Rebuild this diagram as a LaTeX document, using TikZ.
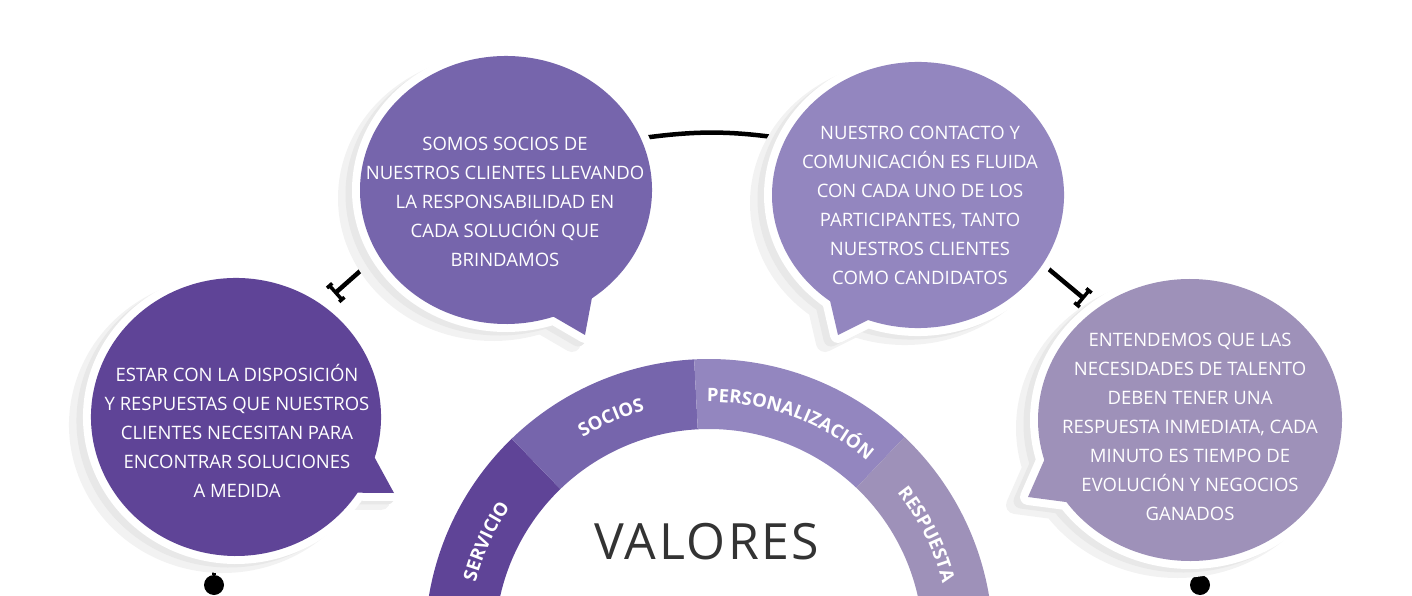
\documentclass[tikz,border=0pt]{standalone}
\usepackage{fontspec}
\setmainfont{Open Sans}
\newfontfamily\valfont{Open Sans}[LetterSpace=5]
\usetikzlibrary{arrows.meta,shapes.geometric,decorations.text,calc}
\definecolor{cserv}{HTML}{5F4497}
\definecolor{csoc}{HTML}{7665AC}
\definecolor{cpers}{HTML}{9386BF}
\definecolor{cresp}{HTML}{9E91B9}
\definecolor{valgray}{HTML}{333333}
\newcommand\lblfont{\fontsize{18.5}{18.5}\selectfont\bfseries}
% colour, centre, x radius, y radius, tail from, tail to, tip
\newcommand\bubble[7]{%
  \begin{scope}[shift={(-13,-8)}]
    \filldraw[black!5,line width=18pt] (#2) ++(#5:#3 and #4) arc[start angle=#5,end angle=#6,x radius=#3,y radius=#4] -- (#7) -- cycle;
  \end{scope}
  \begin{scope}[shift={(-7,-4)}]
    \filldraw[black!9,line width=15pt] (#2) ++(#5:#3 and #4) arc[start angle=#5,end angle=#6,x radius=#3,y radius=#4] -- (#7) -- cycle;
  \end{scope}
  \path[preaction={draw=white,line width=16pt},fill=#1] (#2) ++(#5:#3 and #4) arc[start angle=#5,end angle=#6,x radius=#3,y radius=#4] -- (#7) -- cycle;
}
\begin{document}
\begin{tikzpicture}[x=1pt,y=1pt,line join=round,
  bubshape/.style={ellipse,inner sep=0pt},
  bubtext/.style={align=center,text=white,font=\fontsize{18.5}{29}\selectfont},
  link/.style={line width=4.5pt},
  tee/.style={link,-{Tee Barb[width=22pt,length=7pt,line width=3.5pt]}},
  dot/.style={circle,fill=black,inner sep=0pt,minimum size=20pt}]
\useasboundingbox (0,0) rectangle (1412,595);
\node[bubshape,minimum width=290pt,minimum height=278pt] (serv) at (236,178) {};
\node[bubshape,minimum width=292pt,minimum height=268pt] (soc) at (506,405) {};
\node[bubshape,minimum width=292pt,minimum height=266pt] (pers) at (918,400) {};
\node[bubshape,minimum width=304pt,minimum height=282pt] (resp) at (1190,175) {};
\coordinate (t12) at ($(serv.center)+(51.5:156)$);
\coordinate (t34) at ($(resp.center)+(131:159)$);
\node[dot] (d1) at (214,10) {};
\node[dot] (d4) at (1200,10) {};
% connectors first, the bubbles hide their ends
\draw[tee] (soc.207) -- (t12);
\draw[tee] (pers.-29) -- (t34);
\draw[link] (soc.21) to[bend left=8] (pers.157);
\draw[link] (serv.south -| d1) -- (d1);
\draw[link] (resp.south -| d4) -- (d4);
\bubble{cserv}{236,178}{145}{139}{-17}{327}{394,102}
\bubble{csoc}{506,405}{146}{134}{-54}{289}{585,260}
\bubble{cpers}{918,400}{146}{133}{250}{593}{838,260}
\bubble{cresp}{1190,175}{152}{141}{215.6}{556.5}{1028,98}
\node[bubtext] (servtxt) at (237,164) {ESTAR CON LA DISPOSICIÓN\\Y RESPUESTAS QUE NUESTROS\\CLIENTES NECESITAN PARA\\ENCONTRAR SOLUCIONES\\A MEDIDA};
\node[bubtext] (soctxt) at (505,393) {SOMOS SOCIOS DE\\NUESTROS CLIENTES LLEVANDO\\LA RESPONSABILIDAD EN\\CADA SOLUCIÓN QUE\\BRINDAMOS};
\node[bubtext] (perstxt) at (920,389.5) {NUESTRO CONTACTO Y\\COMUNICACIÓN ES FLUIDA\\CON CADA UNO DE LOS\\PARTICIPANTES, TANTO\\NUESTROS CLIENTES\\COMO CANDIDATOS};
\node[bubtext] (resptxt) at (1190,168) {ENTENDEMOS QUE LAS\\NECESIDADES DE TALENTO\\DEBEN TENER UNA\\RESPUESTA INMEDIATA, CADA\\MINUTO ES TIEMPO DE\\EVOLUCIÓN Y NEGOCIOS\\GANADOS};
% half ring of the values
\coordinate (ring) at (709,-48);
\begin{scope}
\clip (0,0) rectangle (1412,595);
\foreach \a/\b/\c in {180/134/cserv,134/93/csoc,93/46.5/cpers,46.5/0/cresp}
  \fill[\c] ([shift={(\a:284)}]ring) arc[start angle=\a,end angle=\b,radius=284] -- ([shift={(\b:214)}]ring) arc[start angle=\b,end angle=\a,radius=214] -- cycle;
\path[decorate,decoration={text along path,text align=center,text color=white,text={|\lblfont|SERVICIO}}] ([shift={(177:241)}]ring) arc[start angle=177,end angle=134,radius=241];
\path[decorate,decoration={text along path,text align=center,text color=white,text={|\lblfont|SOCIOS}}] ([shift={(134:241)}]ring) arc[start angle=134,end angle=93,radius=241];
\path[decorate,decoration={text along path,text align=center,text color=white,text={|\lblfont|PERSONALIZACIÓN}}] ([shift={(93:241)}]ring) arc[start angle=93,end angle=46.5,radius=241];
\path[decorate,decoration={text along path,text align=center,text color=white,text={|\lblfont|RESPUESTA}}] ([shift={(49:241)}]ring) arc[start angle=49,end angle=4,radius=241];
\end{scope}
\node[font=\valfont\fontsize{50}{50}\selectfont,text=valgray] (valores) at (707,53) {VALORES};
\end{tikzpicture}
\end{document}
